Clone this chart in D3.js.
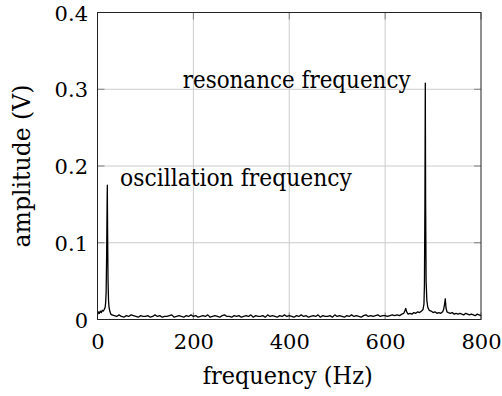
<!DOCTYPE html>
<html>
<head>
<meta charset="utf-8">
<script src="https://cdn.jsdelivr.net/npm/d3@7"></script>
<style>
  html, body { margin: 0; padding: 0; background: #fff; }
</style>
</head>
<body>
<svg id="chart" width="502" height="396"></svg>
<script>
// ---- data ----
const xTicks = [0, 200, 400, 600, 800];
const yTicks = [0, 0.1, 0.2, 0.3, 0.4];
const yTickLabels = ["0", "0.1", "0.2", "0.3", "0.4"];

// low-frequency segment around oscillation peak
const freqLow = [0, 2, 4, 6, 8, 10, 12, 14, 16, 17, 18, 19, 20, 20.5, 21, 22, 23, 24, 26, 28, 30];
const ampLow = [0.006, 0.010, 0.008, 0.011, 0.009, 0.012, 0.011, 0.013, 0.016, 0.022, 0.035, 0.080, 0.150, 0.175, 0.120, 0.050, 0.025, 0.016, 0.010, 0.007, 0.006];

// mid segment, 35..635 Hz every 5 Hz (amplitudes in mV)
const freqMidStart = 35, freqMidStep = 5;
const ampMid_mV = [
  5,4,6,4,3,5,4,6,5,4,3,5,4,
  4,5,3,4,6,4,5,3,4,4,5,6,3,4,5,4,3,5,4,6,4,
  5,3,4,5,4,6,3,4,5,4,3,5,6,4,4,3,5,4,5,3,
  4,5,4,6,3,5,4,4,5,3,6,4,5,4,3,5,4,6,4,5,
  4,3,5,4,6,4,5,3,4,5,4,6,3,5,4,4,5,3,6,4,
  5,4,3,5,4,6,4,5,4,3,5,6,4,5,4,5,6,4,5,5,
  4,5,6,5,6,5,7
];

// high-frequency segment around resonance
const freqHigh = [639, 641, 643, 645, 648, 652, 656, 660, 664, 668, 672, 676, 679, 681, 682, 683, 683.8, 684.5, 685.5, 687, 689, 692, 696, 700, 704, 708, 712, 716, 720, 722, 724, 725.5, 727, 729, 732, 736, 740, 744, 748, 752, 756, 760, 764, 768, 772, 776, 780, 784, 788, 792, 796, 800];
const ampHigh = [0.008, 0.011, 0.0145, 0.010, 0.007, 0.008, 0.007, 0.009, 0.008, 0.010, 0.009, 0.011, 0.013, 0.020, 0.045, 0.150, 0.308, 0.150, 0.050, 0.025, 0.016, 0.012, 0.011, 0.009, 0.010, 0.008, 0.009, 0.008, 0.010, 0.013, 0.020, 0.027, 0.015, 0.010, 0.009, 0.008, 0.009, 0.007, 0.008, 0.007, 0.008, 0.007, 0.006, 0.008, 0.007, 0.006, 0.007, 0.006, 0.005, 0.007, 0.006, 0.005];

const annotations = [
  { text: "oscillation frequency", x: 120, y: 186, len: 232 },
  { text: "resonance frequency", x: 182.7, y: 88, len: 228 }
];

// ---- build series ----
const series = [];
freqLow.forEach((f, i) => series.push([f, ampLow[i]]));
ampMid_mV.forEach((v, i) => series.push([freqMidStart + i * freqMidStep, v / 1000]));
freqHigh.forEach((f, i) => series.push([f, ampHigh[i]]));

// ---- layout ----
const FONT = "'DejaVu Serif', 'Liberation Serif', 'Times New Roman', Times, serif";
const svg = d3.select("#chart");
const pL = 97.5, pR = 481, pT = 12.5, pB = 319.5;
const x = d3.scaleLinear().domain([0, 800]).range([pL, pR]);
const y = d3.scaleLinear().domain([0, 0.4]).range([pB, pT]);
const FS = 24, FS_TICK = 21;

// grid
const grid = svg.append("g");
grid.selectAll("line.vx").data(xTicks.slice(1, -1)).join("line")
  .attr("x1", d => x(d)).attr("x2", d => x(d)).attr("y1", pT).attr("y2", pB)
  .attr("stroke", "#cccccc").attr("stroke-width", 1);
grid.selectAll("line.hy").data(yTicks.slice(1, -1)).join("line")
  .attr("x1", pL).attr("x2", pR).attr("y1", d => y(d)).attr("y2", d => y(d))
  .attr("stroke", "#cccccc").attr("stroke-width", 1);

// inner ticks on all four sides
const tl = 7;
const ticks = svg.append("g").attr("stroke", "#808080").attr("stroke-width", 1);
xTicks.forEach(d => {
  ticks.append("line").attr("x1", x(d)).attr("x2", x(d)).attr("y1", pB).attr("y2", pB - tl);
  ticks.append("line").attr("x1", x(d)).attr("x2", x(d)).attr("y1", pT).attr("y2", pT + tl);
});
yTicks.forEach(d => {
  ticks.append("line").attr("x1", pL).attr("x2", pL + tl).attr("y1", y(d)).attr("y2", y(d));
  ticks.append("line").attr("x1", pR).attr("x2", pR - tl).attr("y1", y(d)).attr("y2", y(d));
});

// data line
const line = d3.line().x(d => x(d[0])).y(d => y(d[1]));
svg.append("path").datum(series)
  .attr("d", line).attr("fill", "none").attr("stroke", "#000")
  .attr("stroke-width", 1.3).attr("stroke-linejoin", "round");

// frame
svg.append("rect").attr("x", pL).attr("y", pT)
  .attr("width", pR - pL).attr("height", pB - pT)
  .attr("fill", "none").attr("stroke", "#222").attr("stroke-width", 1);

// tick labels via d3 axes (text only)
const xAxis = d3.axisBottom(x).tickValues(xTicks).tickFormat(d3.format("d")).tickSize(0).tickPadding(0);
const gx = svg.append("g").attr("transform", `translate(0,${pB})`).call(xAxis)
  .attr("font-family", FONT).attr("font-size", FS_TICK);
gx.select(".domain").remove();
gx.selectAll("text").attr("dy", null).attr("y", 29).attr("fill", "#000");

const yAxis = d3.axisLeft(y).tickValues(yTicks).tickFormat((d, i) => yTickLabels[i]).tickSize(0).tickPadding(0);
const gy = svg.append("g").attr("transform", `translate(${pL},0)`).call(yAxis)
  .attr("font-family", FONT).attr("font-size", FS_TICK);
gy.select(".domain").remove();
gy.selectAll("text").attr("x", -9.5).attr("dy", "0.36em").attr("fill", "#000");

// text helper: place text then stretch horizontally to target width
function fitText(tx, ty, rot, anchor, str, len) {
  const g = svg.append("g").attr("transform", `translate(${tx},${ty}) rotate(${rot})`);
  const t = g.append("text").attr("font-family", FONT).attr("font-size", FS)
    .attr("fill", "#000").attr("text-anchor", anchor).text(str);
  const w = t.node().getComputedTextLength();
  if (w > 0) t.attr("transform", `scale(${len / w},1)`);
  return t;
}

annotations.forEach(a => fitText(a.x, a.y, 0, "start", a.text, a.len));
fitText(287.7, 384, 0, "middle", "frequency (Hz)", 170);
fitText(30, 166, -90, "middle", "amplitude (V)", 163);
</script>
</body>
</html>
